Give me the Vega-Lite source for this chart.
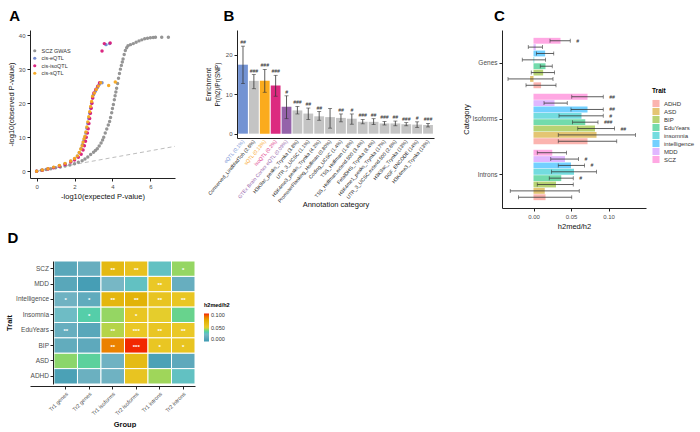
{
  "$schema": "https://vega.github.io/schema/vega-lite/v6.json",
  "padding": {"left": 5, "top": 9, "right": 0, "bottom": 0},
  "spacing": 0,
  "columns": 1,
  "align": "none",
  "bounds": "full",
  "resolve": {"scale": {"color": "independent"}, "legend": {"color": "independent"}},
  "config": {
    "font": "Liberation Sans",
    "view": {"stroke": null},
    "axis": {"grid": false, "domainColor": "#222222", "tickColor": "#222222", "labelColor": "#4d4d4d", "labelFontSize": 6, "titleFontSize": 7.5, "titleFontWeight": "normal", "titleColor": "#111111", "tickSize": 3, "labelPadding": 2, "domainWidth": 1, "titlePadding": 3},
    "title": {"fontSize": 15, "fontWeight": "bold", "anchor": "start", "frame": "bounds", "color": "#000000"},
    "legend": {"labelFontSize": 6, "titleFontSize": 6.5, "titleFontWeight": "bold", "labelColor": "#333333"}
  },
  "datasets": {
    "diag": [{"exp": 0, "obs": 0}, {"exp": 7.3, "obs": 7.3}],
    "qq": [
      {"series": "SCZ GWAS", "exp": 0, "obs": 0}, {"series": "SCZ GWAS", "exp": 0.25, "obs": 0.25}, {"series": "SCZ GWAS", "exp": 0.5, "obs": 0.5}, {"series": "SCZ GWAS", "exp": 0.75, "obs": 0.75}, {"series": "SCZ GWAS", "exp": 1.0, "obs": 1.0}, {"series": "SCZ GWAS", "exp": 1.25, "obs": 1.25}, {"series": "SCZ GWAS", "exp": 1.5, "obs": 1.5}, {"series": "SCZ GWAS", "exp": 1.75, "obs": 1.8}, {"series": "SCZ GWAS", "exp": 2.0, "obs": 2.2}, {"series": "SCZ GWAS", "exp": 2.2, "obs": 2.6}, {"series": "SCZ GWAS", "exp": 2.4, "obs": 3.1}, {"series": "SCZ GWAS", "exp": 2.55, "obs": 3.6}, {"series": "SCZ GWAS", "exp": 2.7, "obs": 4.2}, {"series": "SCZ GWAS", "exp": 2.85, "obs": 4.9}, {"series": "SCZ GWAS", "exp": 3.0, "obs": 5.6}, {"series": "SCZ GWAS", "exp": 3.1, "obs": 6.1}, {"series": "SCZ GWAS", "exp": 3.2, "obs": 6.6}, {"series": "SCZ GWAS", "exp": 3.3, "obs": 7.4}, {"series": "SCZ GWAS", "exp": 3.4, "obs": 8.3}, {"series": "SCZ GWAS", "exp": 3.48, "obs": 9.2}, {"series": "SCZ GWAS", "exp": 3.54, "obs": 10}, {"series": "SCZ GWAS", "exp": 3.62, "obs": 11.2}, {"series": "SCZ GWAS", "exp": 3.7, "obs": 12.4}, {"series": "SCZ GWAS", "exp": 3.78, "obs": 13.6}, {"series": "SCZ GWAS", "exp": 3.85, "obs": 14.6}, {"series": "SCZ GWAS", "exp": 3.9, "obs": 15.8}, {"series": "SCZ GWAS", "exp": 3.96, "obs": 17.2}, {"series": "SCZ GWAS", "exp": 4.0, "obs": 18.4}, {"series": "SCZ GWAS", "exp": 4.05, "obs": 19.6}, {"series": "SCZ GWAS", "exp": 4.1, "obs": 21}, {"series": "SCZ GWAS", "exp": 4.14, "obs": 22.2}, {"series": "SCZ GWAS", "exp": 4.18, "obs": 23.3}, {"series": "SCZ GWAS", "exp": 4.22, "obs": 24.4}, {"series": "SCZ GWAS", "exp": 4.27, "obs": 25.8}, {"series": "SCZ GWAS", "exp": 4.32, "obs": 27.3}, {"series": "SCZ GWAS", "exp": 4.37, "obs": 28.7}, {"series": "SCZ GWAS", "exp": 4.42, "obs": 30}, {"series": "SCZ GWAS", "exp": 4.47, "obs": 31.1}, {"series": "SCZ GWAS", "exp": 4.52, "obs": 32.1}, {"series": "SCZ GWAS", "exp": 4.56, "obs": 33}, {"series": "SCZ GWAS", "exp": 4.62, "obs": 34.3}, {"series": "SCZ GWAS", "exp": 4.68, "obs": 35.5}, {"series": "SCZ GWAS", "exp": 4.75, "obs": 36.3}, {"series": "SCZ GWAS", "exp": 4.82, "obs": 36.9}, {"series": "SCZ GWAS", "exp": 4.95, "obs": 37.2}, {"series": "SCZ GWAS", "exp": 5.1, "obs": 37.5}, {"series": "SCZ GWAS", "exp": 5.25, "obs": 37.9}, {"series": "SCZ GWAS", "exp": 5.4, "obs": 38.3}, {"series": "SCZ GWAS", "exp": 5.55, "obs": 38.6}, {"series": "SCZ GWAS", "exp": 5.7, "obs": 38.9}, {"series": "SCZ GWAS", "exp": 5.85, "obs": 39.1}, {"series": "SCZ GWAS", "exp": 6.0, "obs": 39.2}, {"series": "SCZ GWAS", "exp": 6.15, "obs": 39.3}, {"series": "SCZ GWAS", "exp": 6.27, "obs": 39.4}, {"series": "SCZ GWAS", "exp": 6.6, "obs": 39.4}, {"series": "SCZ GWAS", "exp": 6.95, "obs": 39.4},
      {"series": "cis-eQTL", "exp": 0, "obs": 0}, {"series": "cis-eQTL", "exp": 0.3, "obs": 0.3}, {"series": "cis-eQTL", "exp": 0.6, "obs": 0.7}, {"series": "cis-eQTL", "exp": 0.9, "obs": 1.1}, {"series": "cis-eQTL", "exp": 1.2, "obs": 1.6}, {"series": "cis-eQTL", "exp": 1.5, "obs": 2.2}, {"series": "cis-eQTL", "exp": 1.8, "obs": 2.9}, {"series": "cis-eQTL", "exp": 2.0, "obs": 3.6}, {"series": "cis-eQTL", "exp": 2.15, "obs": 4.4}, {"series": "cis-eQTL", "exp": 2.25, "obs": 5.4}, {"series": "cis-eQTL", "exp": 2.35, "obs": 6.6}, {"series": "cis-eQTL", "exp": 2.42, "obs": 7.8}, {"series": "cis-eQTL", "exp": 2.5, "obs": 9}, {"series": "cis-eQTL", "exp": 2.55, "obs": 10}, {"series": "cis-eQTL", "exp": 2.6, "obs": 11.2}, {"series": "cis-eQTL", "exp": 2.65, "obs": 12.6}, {"series": "cis-eQTL", "exp": 2.7, "obs": 14}, {"series": "cis-eQTL", "exp": 2.75, "obs": 15.5}, {"series": "cis-eQTL", "exp": 2.8, "obs": 17}, {"series": "cis-eQTL", "exp": 2.85, "obs": 18.5}, {"series": "cis-eQTL", "exp": 2.9, "obs": 20}, {"series": "cis-eQTL", "exp": 2.95, "obs": 21.5}, {"series": "cis-eQTL", "exp": 3.0, "obs": 22.5}, {"series": "cis-eQTL", "exp": 3.1, "obs": 23.5}, {"series": "cis-eQTL", "exp": 3.2, "obs": 24.5}, {"series": "cis-eQTL", "exp": 3.3, "obs": 25.5}, {"series": "cis-eQTL", "exp": 3.45, "obs": 26}, {"series": "cis-eQTL", "exp": 3.66, "obs": 37.2}, {"series": "cis-eQTL", "exp": 3.85, "obs": 37.5},
      {"series": "cis-isoQTL", "exp": 0, "obs": 0}, {"series": "cis-isoQTL", "exp": 0.3, "obs": 0.28}, {"series": "cis-isoQTL", "exp": 0.6, "obs": 0.65}, {"series": "cis-isoQTL", "exp": 0.9, "obs": 1.0}, {"series": "cis-isoQTL", "exp": 1.2, "obs": 1.45}, {"series": "cis-isoQTL", "exp": 1.5, "obs": 2.0}, {"series": "cis-isoQTL", "exp": 1.8, "obs": 2.7}, {"series": "cis-isoQTL", "exp": 2.0, "obs": 3.3}, {"series": "cis-isoQTL", "exp": 2.2, "obs": 4.1}, {"series": "cis-isoQTL", "exp": 2.35, "obs": 5.0}, {"series": "cis-isoQTL", "exp": 2.45, "obs": 6.2}, {"series": "cis-isoQTL", "exp": 2.52, "obs": 7.5}, {"series": "cis-isoQTL", "exp": 2.58, "obs": 8.8}, {"series": "cis-isoQTL", "exp": 2.62, "obs": 10}, {"series": "cis-isoQTL", "exp": 2.68, "obs": 11.2}, {"series": "cis-isoQTL", "exp": 2.72, "obs": 12.5}, {"series": "cis-isoQTL", "exp": 2.76, "obs": 14}, {"series": "cis-isoQTL", "exp": 2.8, "obs": 15.5}, {"series": "cis-isoQTL", "exp": 2.84, "obs": 17}, {"series": "cis-isoQTL", "exp": 2.88, "obs": 18.5}, {"series": "cis-isoQTL", "exp": 2.92, "obs": 20}, {"series": "cis-isoQTL", "exp": 2.96, "obs": 21.5}, {"series": "cis-isoQTL", "exp": 3.02, "obs": 23}, {"series": "cis-isoQTL", "exp": 3.12, "obs": 24}, {"series": "cis-isoQTL", "exp": 3.22, "obs": 25}, {"series": "cis-isoQTL", "exp": 3.32, "obs": 26}, {"series": "cis-isoQTL", "exp": 3.45, "obs": 35.3}, {"series": "cis-isoQTL", "exp": 3.57, "obs": 37.5}, {"series": "cis-isoQTL", "exp": 3.88, "obs": 37.7},
      {"series": "cis-sQTL", "exp": 0, "obs": 0}, {"series": "cis-sQTL", "exp": 0.3, "obs": 0.35}, {"series": "cis-sQTL", "exp": 0.6, "obs": 0.75}, {"series": "cis-sQTL", "exp": 0.9, "obs": 1.2}, {"series": "cis-sQTL", "exp": 1.2, "obs": 1.7}, {"series": "cis-sQTL", "exp": 1.5, "obs": 2.3}, {"series": "cis-sQTL", "exp": 1.8, "obs": 3.0}, {"series": "cis-sQTL", "exp": 2.0, "obs": 3.7}, {"series": "cis-sQTL", "exp": 2.15, "obs": 4.5}, {"series": "cis-sQTL", "exp": 2.25, "obs": 5.5}, {"series": "cis-sQTL", "exp": 2.33, "obs": 6.5}, {"series": "cis-sQTL", "exp": 2.4, "obs": 7.5}, {"series": "cis-sQTL", "exp": 2.45, "obs": 8.5}, {"series": "cis-sQTL", "exp": 2.5, "obs": 9.5}, {"series": "cis-sQTL", "exp": 2.55, "obs": 10.3}, {"series": "cis-sQTL", "exp": 2.6, "obs": 11.5}, {"series": "cis-sQTL", "exp": 2.65, "obs": 13}, {"series": "cis-sQTL", "exp": 2.7, "obs": 14.5}, {"series": "cis-sQTL", "exp": 2.75, "obs": 16}, {"series": "cis-sQTL", "exp": 2.8, "obs": 17.5}, {"series": "cis-sQTL", "exp": 2.85, "obs": 19}, {"series": "cis-sQTL", "exp": 2.9, "obs": 20.5}, {"series": "cis-sQTL", "exp": 2.95, "obs": 22}, {"series": "cis-sQTL", "exp": 3.05, "obs": 23}, {"series": "cis-sQTL", "exp": 3.15, "obs": 24}, {"series": "cis-sQTL", "exp": 3.25, "obs": 25}, {"series": "cis-sQTL", "exp": 3.38, "obs": 26}, {"series": "cis-sQTL", "exp": 3.8, "obs": 25.2}, {"series": "cis-sQTL", "exp": 4.15, "obs": 26.2}
    ],
    "enrich": [
      {"label": "eQTL (0.1%)", "grp": "eqtl", "value": 17.5, "lo": 12.7, "hi": 22.2, "sig": "##"},
      {"label": "Conserved_LindbladToh (2.6%)", "grp": "other", "value": 13.4, "lo": 11.4, "hi": 15.0, "sig": "###"},
      {"label": "sQTL (0.13%)", "grp": "sqtl", "value": 13.4, "lo": 10.5, "hi": 16.3, "sig": "###"},
      {"label": "isoQTL (0.2%)", "grp": "isoqtl", "value": 12.2, "lo": 9.5, "hi": 14.8, "sig": "###"},
      {"label": "GTEx Brain Cortex eQTL (0.09%)", "grp": "gtex", "value": 6.8, "lo": 3.8, "hi": 9.6, "sig": "#"},
      {"label": "H3K9ac_peaks_Trynka (3.8%)", "grp": "other", "value": 5.9, "lo": 5.0, "hi": 6.9, "sig": "###"},
      {"label": "UTR_3_UCSC (1.1%)", "grp": "other", "value": 5.1, "lo": 3.6, "hi": 6.5, "sig": "##"},
      {"label": "H3K4me3_peaks_Trynka (4.2%)", "grp": "other", "value": 4.4, "lo": 3.4, "hi": 5.6, "sig": "##"},
      {"label": "PromoterFlanking_Hoffman (0.80%)", "grp": "other", "value": 4.2, "lo": 1.4, "hi": 6.4, "sig": ""},
      {"label": "Coding_UCSC (1.4%)", "grp": "other", "value": 4.0, "lo": 3.0, "hi": 5.0, "sig": "##"},
      {"label": "TSS_Hoffman (1.8%)", "grp": "other", "value": 3.8, "lo": 2.4, "hi": 5.0, "sig": "#"},
      {"label": "TSS_Hoffman.extend.500 (3.4%)", "grp": "other", "value": 3.0, "lo": 2.5, "hi": 3.6, "sig": "###"},
      {"label": "FetalDHS_Trynka (8.4%)", "grp": "other", "value": 3.0, "lo": 2.3, "hi": 3.8, "sig": "##"},
      {"label": "H3K4me1_peaks_Trynka (17%)", "grp": "other", "value": 2.6, "lo": 2.2, "hi": 3.1, "sig": "###"},
      {"label": "UTR_3_UCSC.extend.500 (2.6%)", "grp": "other", "value": 2.6, "lo": 2.0, "hi": 3.2, "sig": "##"},
      {"label": "H3K9ac_Trynka (13%)", "grp": "other", "value": 2.4, "lo": 2.0, "hi": 2.8, "sig": "###"},
      {"label": "DGF_ENCODE (14%)", "grp": "other", "value": 2.3, "lo": 1.6, "hi": 3.0, "sig": "#"},
      {"label": "H3K4me3_Trynka (13%)", "grp": "other", "value": 2.2, "lo": 1.7, "hi": 2.6, "sig": "###"}
    ],
    "med": [
      {"Category": "Genes", "Trait": "SCZ", "value": 0.036, "lo": 0.022, "hi": 0.049, "sig": "#"},
      {"Category": "Genes", "Trait": "MDD", "value": 0.003, "lo": -0.007, "hi": 0.012, "sig": ""},
      {"Category": "Genes", "Trait": "intelligence", "value": 0.0155, "lo": 0.004, "hi": 0.027, "sig": ""},
      {"Category": "Genes", "Trait": "insomnia", "value": 0.001, "lo": -0.015, "hi": 0.016, "sig": ""},
      {"Category": "Genes", "Trait": "EduYears", "value": 0.016, "lo": 0.009, "hi": 0.025, "sig": ""},
      {"Category": "Genes", "Trait": "BIP", "value": 0.0128, "lo": -0.003, "hi": 0.028, "sig": ""},
      {"Category": "Genes", "Trait": "ASD", "value": -0.0045, "lo": -0.034, "hi": 0.026, "sig": ""},
      {"Category": "Genes", "Trait": "ADHD", "value": 0.0101, "lo": -0.010, "hi": 0.030, "sig": ""},
      {"Category": "Isoforms", "Trait": "SCZ", "value": 0.072, "lo": 0.051, "hi": 0.093, "sig": "##"},
      {"Category": "Isoforms", "Trait": "MDD", "value": 0.028, "lo": 0.014, "hi": 0.045, "sig": ""},
      {"Category": "Isoforms", "Trait": "intelligence", "value": 0.072, "lo": 0.050, "hi": 0.093, "sig": "##"},
      {"Category": "Isoforms", "Trait": "insomnia", "value": 0.064, "lo": 0.034, "hi": 0.093, "sig": "#"},
      {"Category": "Isoforms", "Trait": "EduYears", "value": 0.069, "lo": 0.052, "hi": 0.086, "sig": "###"},
      {"Category": "Isoforms", "Trait": "BIP", "value": 0.082, "lo": 0.059, "hi": 0.108, "sig": "##"},
      {"Category": "Isoforms", "Trait": "ASD", "value": 0.084, "lo": 0.033, "hi": 0.136, "sig": ""},
      {"Category": "Isoforms", "Trait": "ADHD", "value": 0.072, "lo": 0.033, "hi": 0.111, "sig": ""},
      {"Category": "Introns", "Trait": "SCZ", "value": 0.025, "lo": 0.005, "hi": 0.044, "sig": ""},
      {"Category": "Introns", "Trait": "MDD", "value": 0.042, "lo": 0.023, "hi": 0.060, "sig": "#"},
      {"Category": "Introns", "Trait": "intelligence", "value": 0.050, "lo": 0.033, "hi": 0.068, "sig": "#"},
      {"Category": "Introns", "Trait": "insomnia", "value": 0.054, "lo": 0.024, "hi": 0.084, "sig": ""},
      {"Category": "Introns", "Trait": "EduYears", "value": 0.037, "lo": 0.021, "hi": 0.053, "sig": "#"},
      {"Category": "Introns", "Trait": "BIP", "value": 0.030, "lo": 0.005, "hi": 0.053, "sig": ""},
      {"Category": "Introns", "Trait": "ASD", "value": 0.015, "lo": -0.031, "hi": 0.061, "sig": ""},
      {"Category": "Introns", "Trait": "ADHD", "value": 0.016, "lo": -0.020, "hi": 0.051, "sig": ""}
    ],
    "heat": [
      {"Trait": "SCZ", "Group": "Tr1 genes", "v": 0.012, "sig": ""}, {"Trait": "SCZ", "Group": "Tr2 genes", "v": 0.018, "sig": ""}, {"Trait": "SCZ", "Group": "Tr1 isoforms", "v": 0.070, "sig": "**"}, {"Trait": "SCZ", "Group": "Tr2 isoforms", "v": 0.062, "sig": "**"}, {"Trait": "SCZ", "Group": "Tr1 introns", "v": 0.030, "sig": ""}, {"Trait": "SCZ", "Group": "Tr2 introns", "v": 0.045, "sig": "*"},
      {"Trait": "MDD", "Group": "Tr1 genes", "v": 0.012, "sig": ""}, {"Trait": "MDD", "Group": "Tr2 genes", "v": 0.004, "sig": ""}, {"Trait": "MDD", "Group": "Tr1 isoforms", "v": 0.026, "sig": ""}, {"Trait": "MDD", "Group": "Tr2 isoforms", "v": 0.030, "sig": ""}, {"Trait": "MDD", "Group": "Tr1 introns", "v": 0.056, "sig": "**"}, {"Trait": "MDD", "Group": "Tr2 introns", "v": 0.018, "sig": ""},
      {"Trait": "Intelligence", "Group": "Tr1 genes", "v": 0.022, "sig": "*"}, {"Trait": "Intelligence", "Group": "Tr2 genes", "v": 0.015, "sig": "*"}, {"Trait": "Intelligence", "Group": "Tr1 isoforms", "v": 0.072, "sig": "**"}, {"Trait": "Intelligence", "Group": "Tr2 isoforms", "v": 0.075, "sig": "**"}, {"Trait": "Intelligence", "Group": "Tr1 introns", "v": 0.060, "sig": "**"}, {"Trait": "Intelligence", "Group": "Tr2 introns", "v": 0.058, "sig": "**"},
      {"Trait": "Insomnia", "Group": "Tr1 genes", "v": 0.028, "sig": ""}, {"Trait": "Insomnia", "Group": "Tr2 genes", "v": 0.036, "sig": "*"}, {"Trait": "Insomnia", "Group": "Tr1 isoforms", "v": 0.045, "sig": ""}, {"Trait": "Insomnia", "Group": "Tr2 isoforms", "v": 0.058, "sig": "*"}, {"Trait": "Insomnia", "Group": "Tr1 introns", "v": 0.052, "sig": ""}, {"Trait": "Insomnia", "Group": "Tr2 introns", "v": 0.040, "sig": ""},
      {"Trait": "EduYears", "Group": "Tr1 genes", "v": 0.018, "sig": "**"}, {"Trait": "EduYears", "Group": "Tr2 genes", "v": 0.012, "sig": ""}, {"Trait": "EduYears", "Group": "Tr1 isoforms", "v": 0.048, "sig": "**"}, {"Trait": "EduYears", "Group": "Tr2 isoforms", "v": 0.056, "sig": "***"}, {"Trait": "EduYears", "Group": "Tr1 introns", "v": 0.058, "sig": "**"}, {"Trait": "EduYears", "Group": "Tr2 introns", "v": 0.056, "sig": "**"},
      {"Trait": "BIP", "Group": "Tr1 genes", "v": 0.016, "sig": ""}, {"Trait": "BIP", "Group": "Tr2 genes", "v": 0.014, "sig": ""}, {"Trait": "BIP", "Group": "Tr1 isoforms", "v": 0.090, "sig": "**"}, {"Trait": "BIP", "Group": "Tr2 isoforms", "v": 0.104, "sig": "***"}, {"Trait": "BIP", "Group": "Tr1 introns", "v": 0.058, "sig": "*"}, {"Trait": "BIP", "Group": "Tr2 introns", "v": 0.060, "sig": "*"},
      {"Trait": "ASD", "Group": "Tr1 genes", "v": 0.044, "sig": ""}, {"Trait": "ASD", "Group": "Tr2 genes", "v": 0.038, "sig": ""}, {"Trait": "ASD", "Group": "Tr1 isoforms", "v": 0.022, "sig": ""}, {"Trait": "ASD", "Group": "Tr2 isoforms", "v": 0.068, "sig": ""}, {"Trait": "ASD", "Group": "Tr1 introns", "v": 0.006, "sig": ""}, {"Trait": "ASD", "Group": "Tr2 introns", "v": 0.014, "sig": ""},
      {"Trait": "ADHD", "Group": "Tr1 genes", "v": 0.006, "sig": ""}, {"Trait": "ADHD", "Group": "Tr2 genes", "v": 0.020, "sig": ""}, {"Trait": "ADHD", "Group": "Tr1 isoforms", "v": 0.022, "sig": ""}, {"Trait": "ADHD", "Group": "Tr2 isoforms", "v": 0.060, "sig": ""}, {"Trait": "ADHD", "Group": "Tr1 introns", "v": 0.046, "sig": ""}, {"Trait": "ADHD", "Group": "Tr2 introns", "v": 0.030, "sig": ""}
    ]
  },
  "concat": [
    {
      "resolve": {"scale": {"color": "independent"}, "legend": {"color": "independent"}},
      "hconcat": [
        {
          "width": 145, "height": 148,
          "title": {"text": "A", "offset": 6, "dx": 2},
          "layer": [
            {
              "data": {"name": "diag"},
              "mark": {"type": "line", "strokeDash": [4, 3], "color": "#bdbdbd", "strokeWidth": 1},
              "encoding": {
                "x": {"field": "exp", "type": "quantitative", "scale": {"domain": [-0.35, 7.3], "nice": false, "zero": false}, "axis": {"values": [0, 2, 4, 6], "title": "-log10(expected P-value)"}},
                "y": {"field": "obs", "type": "quantitative", "scale": {"domain": [-2, 41.5], "nice": false, "zero": false}, "axis": {"values": [0, 10, 20, 30, 40], "title": "-log10(observed P-value)"}}
              }
            },
            {
              "data": {"name": "qq"},
              "mark": {"type": "circle", "size": 12, "opacity": 0.95},
              "encoding": {
                "x": {"field": "exp", "type": "quantitative", "axis": {"values": [0, 2, 4, 6], "title": "-log10(expected P-value)"}},
                "y": {"field": "obs", "type": "quantitative", "axis": {"values": [0, 10, 20, 30, 40], "title": "-log10(observed P-value)"}},
                "color": {"field": "series", "type": "nominal", "scale": {"domain": ["SCZ GWAS", "cis-eQTL", "cis-isoQTL", "cis-sQTL"], "range": ["#8f8f8f", "#6f86cf", "#d81b7a", "#f7a61c"]}, "legend": {"title": null, "orient": "none", "legendX": 2, "legendY": 18, "symbolSize": 10, "labelFontSize": 5.5, "rowPadding": 0.5, "symbolType": "circle", "labelColor": "#333333"}}
              }
            }
          ]
        },
        {
          "width": 197, "height": 108,
          "title": {"text": "B", "offset": 6, "dx": 18},
          "data": {"name": "enrich"},
          "encoding": {
            "x": {"field": "label", "type": "nominal", "sort": null, "scale": {"paddingInner": 0.1, "paddingOuter": 0.1},
              "axis": {"title": "Annotation category", "labelAngle": -50, "labelFontSize": 5, "titleY": 62, "ticks": false, "labelPadding": 2,
                "labelColor": {"condition": [{"test": "datum.value === 'eQTL (0.1%)'", "value": "#6f8ed3"}, {"test": "datum.value === 'sQTL (0.13%)'", "value": "#f9a51c"}, {"test": "datum.value === 'isoQTL (0.2%)'", "value": "#dc2a80"}, {"test": "datum.value === 'GTEx Brain Cortex eQTL (0.09%)'", "value": "#9563aa"}], "value": "#222222"}}}
          },
          "layer": [
            {
              "mark": {"type": "bar"},
              "encoding": {
                "y": {"field": "value", "type": "quantitative", "scale": {"domain": [-1.1, 26.3], "nice": false, "zero": false}, "axis": {"values": [0, 5, 10, 15, 20, 25], "title": ["Enrichment", "Pr(h2)/Pr(SNP)"], "titleFontSize": 6.5, "minExtent": 14}},
                "y2": {"datum": 0},
                "color": {"field": "grp", "type": "nominal", "scale": {"domain": ["eqtl", "sqtl", "isoqtl", "gtex", "other"], "range": ["#7393d3", "#fbab1d", "#dc2a80", "#9563aa", "#c4c4c4"]}, "legend": null}
              }
            },
            {
              "mark": {"type": "rule", "color": "#333333", "strokeWidth": 0.8},
              "encoding": {"y": {"field": "lo", "type": "quantitative"}, "y2": {"field": "hi"}}
            },
            {
              "mark": {"type": "tick", "color": "#333333", "thickness": 0.8, "size": 4},
              "encoding": {"y": {"field": "lo", "type": "quantitative"}}
            },
            {
              "mark": {"type": "tick", "color": "#333333", "thickness": 0.8, "size": 4},
              "encoding": {"y": {"field": "hi", "type": "quantitative"}}
            },
            {
              "mark": {"type": "text", "dy": -4, "fontSize": 5, "fontStyle": "italic", "color": "#222222"},
              "encoding": {"y": {"field": "hi", "type": "quantitative"}, "text": {"field": "sig"}}
            }
          ]
        },
        {
          "width": 144, "height": 178,
          "title": {"text": "C", "offset": 6, "dx": 32},
          "data": {"name": "med"},
          "encoding": {
            "y": {"field": "Category", "type": "nominal", "sort": ["Genes", "Isoforms", "Introns"], "scale": {"paddingInner": 0.1, "paddingOuter": 0.14}, "axis": {"title": "Category", "labelFontSize": 6.5, "titlePadding": 2}},
            "yOffset": {"field": "Trait", "type": "nominal", "sort": ["SCZ", "MDD", "intelligence", "insomnia", "EduYears", "BIP", "ASD", "ADHD"], "scale": {"paddingInner": 0.08}}
          },
          "layer": [
            {
              "mark": {"type": "bar", "opacity": 0.55},
              "encoding": {
                "x": {"field": "value", "type": "quantitative", "scale": {"domain": [-0.042, 0.15], "nice": false, "zero": false}, "axis": {"values": [0, 0.05, 0.1], "format": ".2f", "title": "h2med/h2"}},
                "x2": {"datum": 0},
                "color": {"field": "Trait", "type": "nominal", "scale": {"domain": ["ADHD", "ASD", "BIP", "EduYears", "insomnia", "intelligence", "MDD", "SCZ"], "range": ["#F8766D", "#CD9600", "#7CAE00", "#00BE67", "#00BFC4", "#00A9FF", "#C77CFF", "#FF61CC"]},
                  "legend": {"title": "Trait", "orient": "none", "legendX": 150, "legendY": 58, "symbolType": "square", "symbolOpacity": 0.55, "symbolSize": 50, "symbolStrokeWidth": 0, "rowPadding": 0, "labelFontSize": 6}}
              }
            },
            {
              "mark": {"type": "rule", "color": "#333333", "strokeWidth": 0.8},
              "encoding": {"x": {"field": "lo", "type": "quantitative"}, "x2": {"field": "hi"}}
            },
            {
              "mark": {"type": "tick", "color": "#333333", "thickness": 0.8, "size": 4},
              "encoding": {"x": {"field": "lo", "type": "quantitative"}}
            },
            {
              "mark": {"type": "tick", "color": "#333333", "thickness": 0.8, "size": 4},
              "encoding": {"x": {"field": "hi", "type": "quantitative"}}
            },
            {
              "mark": {"type": "text", "dx": 6, "align": "left", "fontSize": 5, "fontStyle": "italic", "color": "#222222"},
              "encoding": {"x": {"field": "hi", "type": "quantitative"}, "text": {"field": "sig"}}
            }
          ]
        }
      ],
      "spacing": 28
    },
    {
      "width": 165, "height": 123,
      "title": {"text": "D", "offset": 15, "dx": 2},
      "data": {"name": "heat"},
      "encoding": {
        "x": {"field": "Group", "type": "nominal", "sort": ["Tr1 genes", "Tr2 genes", "Tr1 isoforms", "Tr2 isoforms", "Tr1 introns", "Tr2 introns"], "scale": {"paddingInner": 0, "paddingOuter": 0.51, "align": 1}, "axis": {"title": "Group", "labelAngle": -45, "titleFontWeight": "bold", "offset": 2, "titlePadding": 4, "labelFontSize": 5.5, "titleX": 94.5}},
        "y": {"field": "Trait", "type": "nominal", "sort": ["SCZ", "MDD", "Intelligence", "Insomnia", "EduYears", "BIP", "ASD", "ADHD"], "scale": {"paddingInner": 0, "paddingOuter": 0}, "axis": {"title": "Trait", "titleFontWeight": "bold", "offset": -23, "labelFontSize": 6.5, "titlePadding": 2, "labelPadding": 1.5}}
      },
      "layer": [
        {
          "mark": {"type": "rect", "stroke": "white", "strokeWidth": 1},
          "encoding": {
            "color": {"field": "v", "type": "quantitative", "scale": {"domain": [0, 0.105], "range": ["#3B9AB2", "#78B7C5", "#EBCC2A", "#E1AF00", "#F21A00"]},
              "legend": {"title": "h2med/h2", "orient": "none", "legendX": 174, "legendY": 42, "gradientLength": 28, "gradientThickness": 5, "values": [0, 0.025, 0.05, 0.075, 0.1], "format": ".3f", "labelFontSize": 5.5, "titleFontSize": 5.5}}
          }
        },
        {
          "mark": {"type": "text", "color": "white", "fontSize": 6, "fontWeight": "bold", "dy": 1},
          "encoding": {"text": {"field": "sig"}}
        }
      ]
    }
  ]
}
